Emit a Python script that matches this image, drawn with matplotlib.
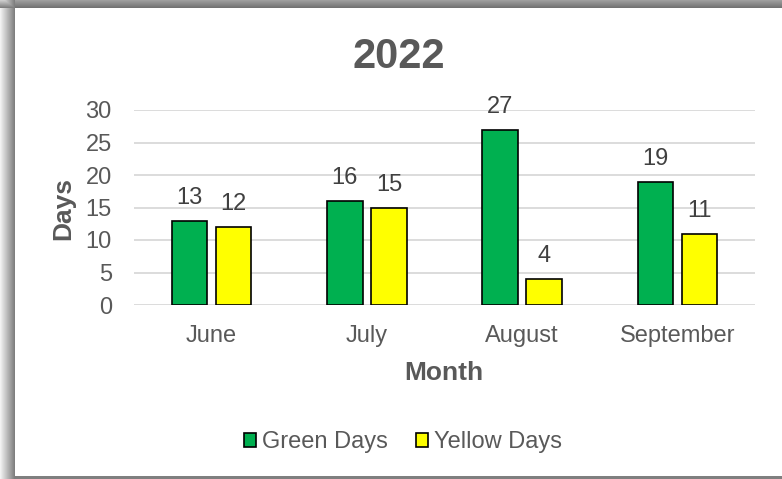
import numpy as np
import matplotlib
matplotlib.use("Agg")
import matplotlib.pyplot as plt
from matplotlib.patches import Patch

plt.rcParams["font.family"] = ["Liberation Sans", "DejaVu Sans"]

months = ["June", "July", "August", "September"]
green_days = [13, 16, 27, 19]
yellow_days = [12, 15, 4, 11]
y_ticks = [0, 5, 10, 15, 20, 25, 30]

GREEN, YELLOW = "#00B050", "#FFFF00"
TXT, LBL, GRID = "#595959", "#404040", "#D9D9D9"

W, H, DPI = 782, 479, 100
fig = plt.figure(figsize=(W / DPI, H / DPI), dpi=DPI, facecolor="white")

# frame: soft shadow on left/top, gray rule at the bottom
bg = np.ones((H, W))
left = np.linspace(0.95, 0.5, 15)
bg[:, :15] = left[None, :]
top = np.linspace(0.62, 0.45, 8)
bg[:8, 15:] = top[:, None]
bg[:8, :15] = np.minimum(bg[:8, :15], np.linspace(0.8, 0.5, 8)[:, None])
bg[476:, 15:] = 0.5
fig.figimage(np.dstack([bg] * 3), xo=0, yo=0, origin="upper", zorder=-10)

ax = fig.add_axes([134 / W, 1 - 305 / H, (755 - 134) / W, (305 - 110) / H])
ax.set_facecolor("none")
ax.set_zorder(1)
x = np.arange(len(months))
w, off = 0.229, 0.142
bg_bars = ax.bar(x - off, green_days, w, color=GREEN, edgecolor="black", lw=1.2, zorder=3)
by_bars = ax.bar(x + off, yellow_days, w, color=YELLOW, edgecolor="black", lw=1.2, zorder=3)
for bars in (bg_bars, by_bars):
    for b in bars:
        ax.annotate(f"{b.get_height():.0f}", (b.get_x() + b.get_width() / 2, b.get_height()),
                    xytext=(0, 12), textcoords="offset points", ha="center", va="baseline",
                    fontsize=17, color=LBL)

ax.set_xlim(-0.5, len(months) - 0.5)
ax.set_ylim(0, 30)
ax.set_yticks(y_ticks)
ax.set_xticks(x, months)
ax.tick_params(axis="both", length=0, labelsize=17, labelcolor=TXT)
ax.tick_params(axis="y", pad=16)
ax.tick_params(axis="x", pad=14.5)
ax.grid(axis="y", color=GRID, lw=1.3, zorder=0)
for s in ax.spines.values():
    s.set_visible(False)

fig.text(399 / W, 1 - 68.3 / H, "2022", ha="center", va="baseline",
         fontsize=30, fontweight="bold", color=TXT)
fig.text(444 / W, 1 - 379.5 / H, "Month", ha="center", va="baseline",
         fontsize=19, fontweight="bold", color=TXT)
fig.text(63 / W, 1 - 208 / H, "Days", ha="center", va="center", rotation=90,
         fontsize=19, fontweight="bold", color=TXT)

handles = [Patch(facecolor=GREEN, edgecolor="black", lw=1.2),
           Patch(facecolor=YELLOW, edgecolor="black", lw=1.2)]
fig.legend(handles, ["Green Days", "Yellow Days"], loc="center",
           bbox_to_anchor=(403 / W, 1 - 442 / H), ncol=2, frameon=False,
           fontsize=17, labelcolor=TXT, handlelength=0.52, handleheight=0.52,
           handletextpad=0.25, columnspacing=1.2)

fig.savefig("out.png", dpi=DPI)
